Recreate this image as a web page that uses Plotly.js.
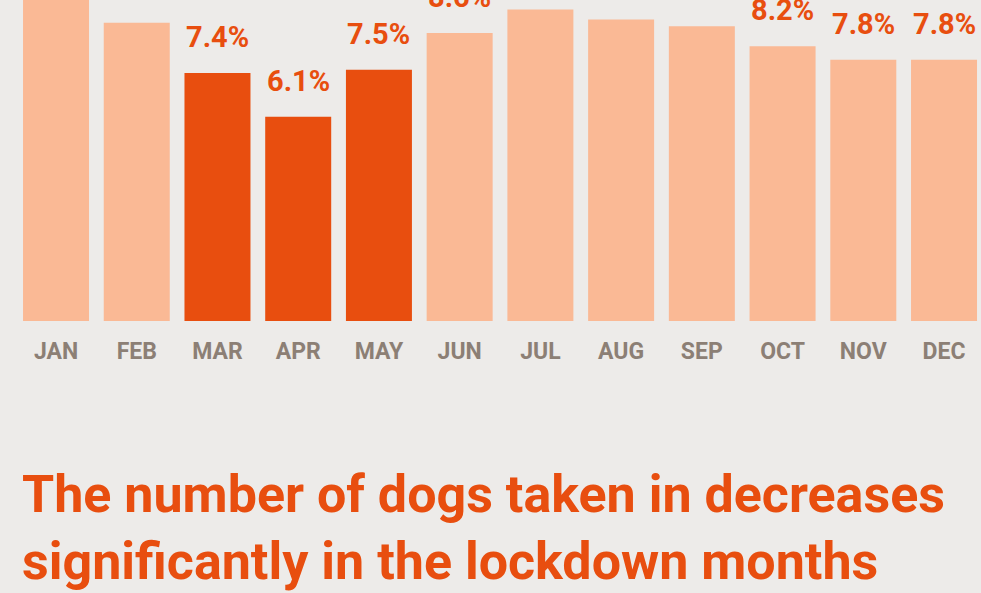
<!DOCTYPE html>
<html>
<head>
<meta charset="utf-8">
<script src="https://cdn.plot.ly/plotly-3.0.1.min.js"></script>
<style>
html,body{margin:0;padding:0;background:#EDEBE9;overflow:hidden;}
#chart{width:981px;height:593px;}
</style>
</head>
<body>
<div id="chart"></div>
<script>
// Data (share of dogs taken in per month, %)
const months = ["JAN","FEB","MAR","APR","MAY","JUN","JUL","AUG","SEP","OCT","NOV","DEC"];
const shares = [10.6, 8.9, 7.4, 6.1, 7.5, 8.6, 9.3, 9.0, 8.8, 8.2, 7.8, 7.8];
const lockdown = ["MAR","APR","MAY"];
const titleLines = [
  "The number of dogs taken in decreases",
  "significantly in the lockdown months"
];

const LIGHT = "#FAB995";
const DARK = "#E84E0F";
const BG = "#EDEBE9";
const FONT = "Roboto, 'DejaVu Sans', sans-serif";

const colors = months.map(m => lockdown.includes(m) ? DARK : LIGHT);

const trace = {
  type: "bar",
  x: months,
  y: shares,
  marker: {color: colors, line: {width: 0}},
  hoverinfo: "none"
};

const H = 593, baseline = 321;
const py = p => (baseline - p) / baseline;

const annotations = months.map((m, i) => ({
  x: m, y: shares[i], xref: "x", yref: "y",
  text: shares[i].toFixed(1) + "%",
  showarrow: false, yanchor: "bottom", yshift: 17,
  font: {family: FONT, size: 29, color: DARK, weight: "bold"}
}));

annotations.push({
  xref: "paper", yref: "paper", x: 20/981, y: py(494), xanchor: "left", yanchor: "middle",
  text: titleLines[0], showarrow: false,
  font: {family: FONT, size: 52, color: DARK, weight: "bold"}
});
annotations.push({
  xref: "paper", yref: "paper", x: 20/981, y: py(561), xanchor: "left", yanchor: "middle",
  text: titleLines[1], showarrow: false,
  font: {family: FONT, size: 52, color: DARK, weight: "bold"}
});

const layout = {
  width: 981, height: H,
  margin: {l: 0, r: 0, t: 0, b: H - baseline, pad: 0},
  paper_bgcolor: BG, plot_bgcolor: BG,
  bargap: 0.1825,
  showlegend: false,
  xaxis: {
    type: "category", range: [-0.694, 11.458],
    showgrid: false, zeroline: false, showline: false, ticks: "",
    ticklabelstandoff: 14,
    tickfont: {family: FONT, size: 23, color: "#8C7F75", weight: "bold"},
    fixedrange: true
  },
  yaxis: {
    range: [0, baseline / 33.5], visible: false, showgrid: false, zeroline: false, fixedrange: true
  },
  annotations: annotations
};

Plotly.newPlot("chart", [trace], layout, {displayModeBar: false, staticPlot: true});
</script>
</body>
</html>
